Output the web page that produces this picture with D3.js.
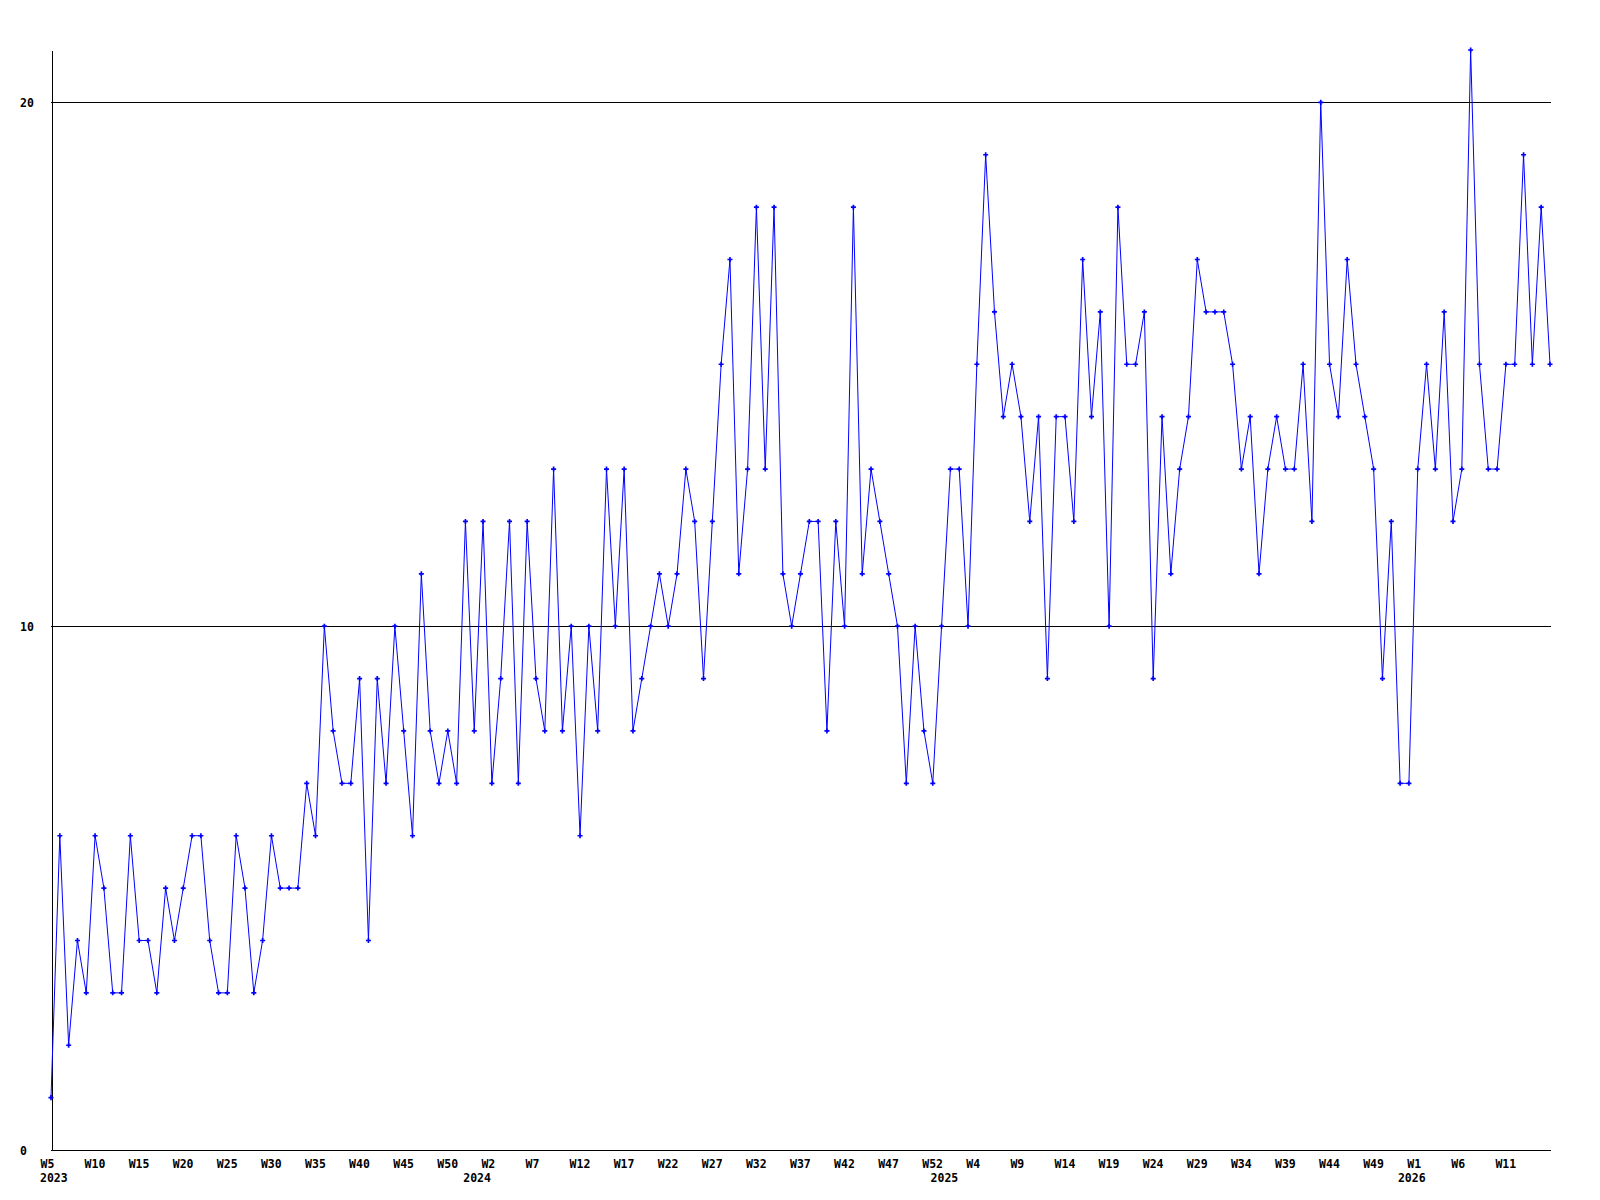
<!DOCTYPE html>
<html>
<head>
<meta charset="utf-8">
<script src="https://cdn.jsdelivr.net/npm/d3@7"></script>
<style>
  body { margin: 0; background: #fff; }
  text { font-family: "DejaVu Sans Mono", monospace; font-weight: bold; font-size: 11.5px; fill: #000; }
</style>
</head>
<body>
<script>
// weeks shown on the x axis, one segment per year
var years     = ["2023", "2024", "2025", "2026"];
var firstWeek = [5, 0, 0, 0];
var lastWeek  = [52, 52, 52, 16];

// weekly values, W5 2023 .. W16 2026
var values = [1, 6, 2, 4, 3, 6, 5, 3, 3, 6,
              4, 4, 3, 5, 4, 5, 6, 6, 4, 3,
              3, 6, 5, 3, 4, 6, 5, 5, 5, 7,
              6, 10, 8, 7, 7, 9, 4, 9, 7, 10,
              8, 6, 11, 8, 7, 8, 7, 12, 8, 12,
              7, 9, 12, 7, 12, 9, 8, 13, 8, 10,
              6, 10, 8, 13, 10, 13, 8, 9, 10, 11,
              10, 11, 13, 12, 9, 12, 15, 17, 11, 13,
              18, 13, 18, 11, 10, 11, 12, 12, 8, 12,
              10, 18, 11, 13, 12, 11, 10, 7, 10, 8,
              7, 10, 13, 13, 10, 15, 19, 16, 14, 15,
              14, 12, 14, 9, 14, 14, 12, 17, 14, 16,
              10, 18, 15, 15, 16, 9, 14, 11, 13, 14,
              17, 16, 16, 16, 15, 13, 14, 11, 13, 14,
              13, 13, 15, 12, 20, 15, 14, 17, 15, 14,
              13, 9, 12, 7, 7, 13, 15, 13, 16, 12,
              13, 21, 15, 13, 13, 15, 15, 19, 15, 18,
              15];

var yTicks = [0, 10, 20];

// build category keys like "2023-W5"
var categories = [];
var yearStarts = [];
years.forEach(function(y, i) {
  yearStarts.push({year: y, key: y + "-W" + firstWeek[i]});
  for (var w = firstWeek[i]; w <= lastWeek[i]; w++) {
    categories.push(y + "-W" + w);
  }
});

var data = categories.map(function(c, i) { return {key: c, value: values[i]}; });

var screen = {width: 1600, height: 1200};
var plot = {left: 51, right: 1550, top: 50, bottom: 1150};

var svg = d3.select("body")
            .append("svg")
            .attr("width", screen.width)
            .attr("height", screen.height);

var x = d3.scalePoint()
          .domain(categories)
          .range([plot.left, plot.right]);

var y = d3.scaleLinear()
          .domain([0, 21])
          .range([plot.bottom, plot.top]);

// horizontal grid lines
svg.append("g")
   .selectAll("line")
   .data(yTicks.filter(function(t) { return t > 0; }))
   .enter()
   .append("line")
   .attr("x1", plot.left)
   .attr("x2", plot.right + 1)
   .attr("y1", function(d) { return Math.round(y(d)) + 0.5; })
   .attr("y2", function(d) { return Math.round(y(d)) + 0.5; })
   .attr("stroke", "#000")
   .attr("shape-rendering", "crispEdges");

// y axis
var yAxis = svg.append("g")
               .attr("transform", "translate(" + (plot.left + 0.5) + ",0)")
               .call(d3.axisLeft(y).tickValues(yTicks).tickSize(0).tickSizeOuter(0));
yAxis.select(".domain").attr("stroke", "#000").attr("shape-rendering", "crispEdges");
yAxis.selectAll("text")
     .attr("text-anchor", "start")
     .attr("x", 19.5 - plot.left)
     .attr("dy", "0.36em");

// x axis, a label every 5 weeks (the last week gets none)
var xAxis = svg.append("g")
               .attr("transform", "translate(0," + (plot.bottom + 0.5) + ")")
               .call(d3.axisBottom(x)
                       .tickValues(categories.filter(function(c, i) { return i % 5 == 0 && i < categories.length - 1; }))
                       .tickFormat(function(d) { return d.split("-")[1]; })
                       .tickSize(0).tickSizeOuter(0));
xAxis.select(".domain").attr("stroke", "#000").attr("shape-rendering", "crispEdges")
     .attr("d", "M" + plot.left + ",0H" + (plot.right + 1));
xAxis.selectAll("text")
     .attr("text-anchor", "start")
     .attr("x", -11)
     .attr("y", 17.5)
     .attr("dy", 0);

// year labels under first week of each year
svg.append("g")
   .selectAll("text")
   .data(yearStarts)
   .enter()
   .append("text")
   .attr("x", function(d) { return x(d.key) - 11; })
   .attr("y", 1181.5)
   .text(function(d) { return d.year; });

// the series
var line = d3.line()
             .x(function(d) { return x(d.key); })
             .y(function(d) { return y(d.value); });

svg.append("path")
   .datum(data)
   .attr("d", line)
   .attr("fill", "none")
   .attr("stroke", "#0000ff")
   .attr("stroke-width", 1);

svg.append("g")
   .selectAll("path")
   .data(data)
   .enter()
   .append("path")
   .attr("d", d3.symbol().type(d3.symbolCross).size(14))
   .attr("transform", function(d) { return "translate(" + x(d.key) + "," + y(d.value) + ")"; })
   .attr("fill", "#0000ff");
</script>
</body>
</html>
